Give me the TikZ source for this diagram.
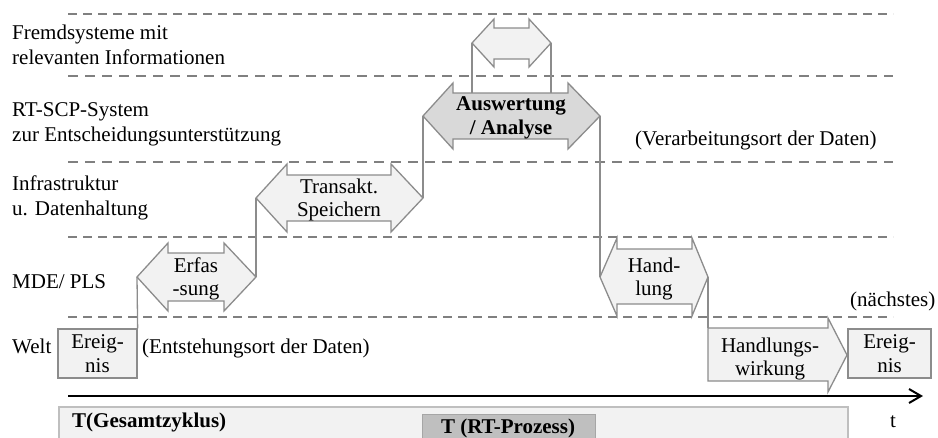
\documentclass[tikz,border=0pt]{standalone}
\usepackage{fontspec}
\setmainfont{Liberation Serif}
\usetikzlibrary{arrows.meta}
\definecolor{edgegray}{RGB}{140,140,140}
\definecolor{sepgray}{RGB}{128,128,128}
\definecolor{lightfill}{RGB}{242,242,242}
\definecolor{darkfill}{RGB}{217,217,217}
\definecolor{boxedge}{RGB}{191,191,191}
\definecolor{rtfill}{RGB}{191,191,191}
\definecolor{rtedge}{RGB}{166,166,166}
\begin{document}
\begin{tikzpicture}[x=1pt,y=-1pt,
  shp/.style={draw=edgegray, fill=lightfill, line width=1.3pt, line join=miter},
  conn/.style={draw=edgegray, line width=1.3pt},
  septhin/.style={draw=sepgray, line width=1.2pt, dash pattern=on 9pt off 6pt},
  septhick/.style={draw=sepgray, line width=2.2pt, dash pattern=on 10pt off 7pt},
  txt/.style={font=\fontsize{21}{23.5}\selectfont, inner sep=0pt, align=center},
  lbl/.style={font=\fontsize{21}{25}\selectfont, inner sep=0pt, align=left, anchor=west},
  one/.style={font=\fontsize{21}{25}\selectfont, inner sep=0pt},
]
\clip (0,0) rectangle (938,437);

% layer separators
\draw[septhin]  (68,14)  -- (893,14);
\draw[septhick] (68,76)  -- (893,76);
\draw[septhick] (68,162) -- (893,162);
\draw[septhin]  (68,237) -- (893,237);
\draw[septhin]  (68,317) -- (893,317);

% layer labels
\node[lbl] (lfremd) at (12,45)  {Fremdsysteme mit\\relevanten Informationen};
\node[lbl] (lrt)    at (12,124) {RT-SCP-System\\zur Entscheidungsunterstützung};
\node[lbl] (linfra) at (12,198) {Infrastruktur\\u. Datenhaltung};
\node[one, anchor=base west] (lmde)  at (12,288) {MDE/ PLS};
\node[one, anchor=base west] (lwelt) at (12,353) {Welt};

\node[one, anchor=base west] (entst) at (142,353) {(Entstehungsort der Daten)};
\node[one, anchor=base west] (verarb) at (635,145) {(Verarbeitungsort der Daten)};
\node[one, anchor=base west] (naechst) at (850,306) {(nächstes)};

% Ereignis 1
\node[shp, txt, minimum width=79pt, minimum height=49pt] (ev1) at (97.5,353.5) {Ereig-\\nis};

% Erfassung
\draw[shp] (137,277) coordinate (erfL) -- (168,243) -- (168,253) -- (224,253) -- (224,243)
  -- (256,277) coordinate (erfR) -- (224,311) -- (224,301) -- (168,301) -- (168,311) -- cycle;
\node[txt] (erf) at (196,279) {Erfas\\-sung};

% Transakt. Speichern
\draw[shp] (256,198) coordinate (traL) -- (287,164) -- (287,175) -- (391,175) -- (391,164)
  -- (423,198) coordinate (traR) -- (391,232) -- (391,221) -- (287,221) -- (287,232) -- cycle;
\node[txt] (tra) at (339,200) {Transakt.\\Speichern};

% Auswertung / Analyse
\draw[shp, fill=darkfill] (423,116) coordinate (ausL) -- (453,83) -- (453,93) -- (568,93) -- (568,83)
  -- (600,116) coordinate (ausR) -- (568,149) -- (568,139) -- (453,139) -- (453,149) -- cycle;
\node[txt, font=\fontsize{21}{23.5}\selectfont\bfseries] (aus) at (511,118) {Auswertung\\/ Analyse};
\coordinate (ausT1) at (472,93);
\coordinate (ausT2) at (551,93);

% small arrow (Fremdsysteme)
\draw[shp] (472,43) coordinate (smL) -- (494,19) -- (494,28) -- (529,28) -- (529,19)
  -- (551,43) coordinate (smR) -- (529,67) -- (529,59) -- (494,59) -- (494,67) -- cycle;

% Handlung
\draw[shp] (600,277) coordinate (hanL) -- (617,238) -- (617,249) -- (692,249) -- (692,238)
  -- (708,277) coordinate (hanR) -- (692,316) -- (692,304) -- (617,304) -- (617,316) -- cycle;
\node[txt] (han) at (654,279) {Hand-\\lung};

% Handlungswirkung
\draw[shp] (708,328) coordinate (hwTL) -- (828,328) -- (828,318) -- (847,355) coordinate (hwTip)
  -- (828,392) -- (828,381) -- (708,381) -- cycle;
\node[txt] (hw) at (770,359) {Handlungs-\\wirkung};

% Ereignis 2
\node[shp, txt, minimum width=83pt, minimum height=49pt] (ev2) at (889.5,353.5) {Ereig-\\nis};

% connectors
\draw[conn] (ev1.north east) -- (erfL);
\draw[conn] (erfR) -- (traL);
\draw[conn] (traR) -- (ausL);
\draw[conn] (smL) -- (ausT1);
\draw[conn] (smR) -- (ausT2);
\draw[conn] (ausR) -- (hanL);
\draw[conn] (hanR) -- (hwTL);

% time axis
\coordinate (ax0) at (68,396);
\coordinate (ax1) at (923,396);
\draw[line width=2pt, -{Straight Barb[length=12pt,width=14pt]}] (ax0) -- (ax1);
\node[one, anchor=base] (tlabel) at (893,427) {t};

% cycle bars
\node[draw=boxedge, fill=lightfill, line width=1.5pt, inner sep=0pt, anchor=north west,
  minimum width=789pt, minimum height=50pt] (ges) at (58,406) {};
\node[one, font=\fontsize{21}{25}\selectfont\bfseries, anchor=base west] (gestxt) at (72,427) {T(Gesamtzyklus)};
\node[draw=rtedge, fill=rtfill, line width=1.2pt, inner sep=0pt, anchor=north west,
  minimum width=173pt, minimum height=40pt] (rt) at (422,414) {};
\node[one, font=\fontsize{21}{25}\selectfont\bfseries, anchor=base] (rttxt) at (508,433) {T (RT-Prozess)};
\end{tikzpicture}
\end{document}
